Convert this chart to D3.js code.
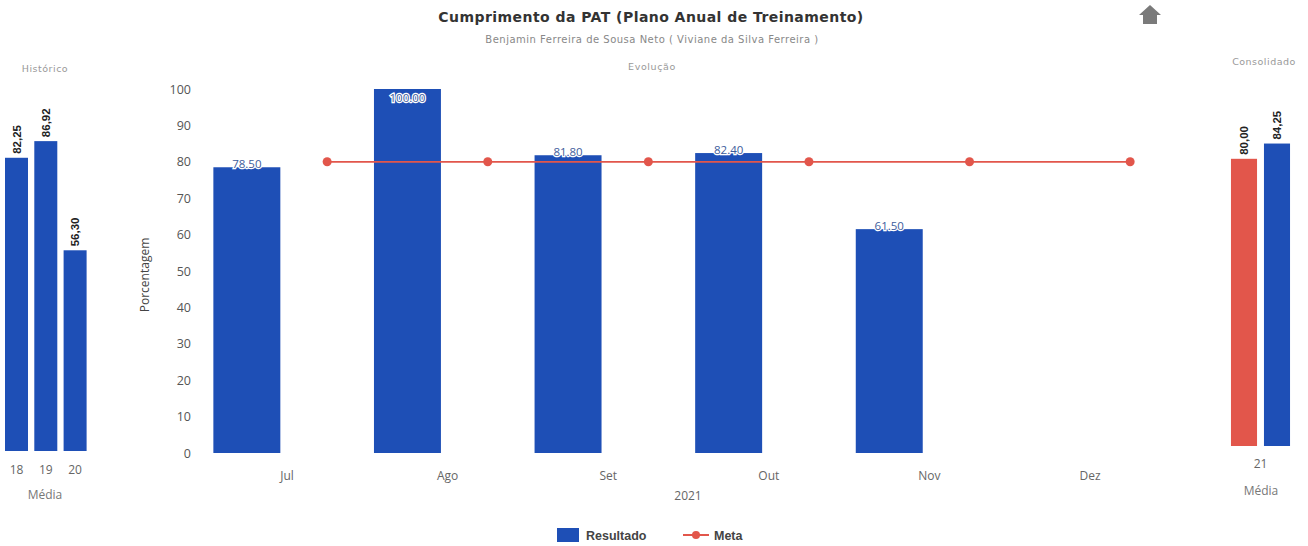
<!DOCTYPE html>
<html>
<head>
<meta charset="utf-8">
<script src="https://cdn.jsdelivr.net/npm/d3@7"></script>
<style>
  html, body { margin: 0; padding: 0; background: #ffffff; }
  svg { display: block; font-family: "Liberation Sans", Arial, sans-serif; }
</style>
</head>
<body>
<svg id="chart" width="1308" height="546"></svg>
<script>
// ---------- DATA ----------
const months = ["Jul", "Ago", "Set", "Out", "Nov", "Dez"];
const resultado = [78.5, 100.0, 81.8, 82.4, 61.5, null];
const meta = [80, 80, 80, 80, 80, 80];
const yTicks = [0, 10, 20, 30, 40, 50, 60, 70, 80, 90, 100];

const histYears = ["18", "19", "20"];
const histValues = [82.25, 86.92, 56.30];

const consCategory = "21";
const consSeries = ["Meta", "Resultado"];
const consValues = [80.00, 84.25];

// ---------- STYLE ----------
const BLUE = "#1e4fb6";
const RED = "#e2564b";
const OPEN = "'Open Sans', 'Liberation Sans', sans-serif";
const DEJA = "'DejaVu Sans', sans-serif";
const svg = d3.select("#chart");
const fmtDot = d3.format(".2f");
const fmtComma = v => d3.format(".2f")(v).replace(".", ",");

// ---------- TITLES ----------
svg.append("text").attr("x", 651).attr("y", 22).attr("text-anchor", "middle")
  .attr("font-size", 14).attr("font-weight", "bold").attr("fill", "#333")
  .attr("letter-spacing", 0.45)
  .style("font-family", DEJA)
  .text("Cumprimento da PAT (Plano Anual de Treinamento)");
svg.append("text").attr("x", 652).attr("y", 43).attr("text-anchor", "middle")
  .attr("font-size", 10).attr("fill", "#888").attr("letter-spacing", 0.5).style("font-family", DEJA)
  .text("Benjamin Ferreira de Sousa Neto ( Viviane da Silva Ferreira )");

// home / up arrow icon
svg.append("path")
  .attr("d", "M1150,5 L1161,15 L1157,15 L1157,24 L1143,24 L1143,15 L1139,15 Z")
  .attr("fill", "#7a7a7a");

// ---------- LEFT PANEL: Histórico ----------
svg.append("text").attr("x", 45).attr("y", 72).attr("text-anchor", "middle")
  .attr("font-size", 9.5).attr("letter-spacing", 0.5).attr("fill", "#999").style("font-family", DEJA).text("Histórico");

const xL = d3.scaleBand().domain(histYears).range([1.85, 89.75]).paddingInner(0.215).paddingOuter(0.1075);
const yL = d3.scaleLinear().domain([0, 100]).range([451, 94.5]);

svg.append("g").selectAll("rect").data(histYears).join("rect")
  .attr("x", d => xL(d)).attr("width", xL.bandwidth())
  .attr("y", (d, i) => yL(histValues[i]))
  .attr("height", (d, i) => yL(0) - yL(histValues[i]))
  .attr("fill", BLUE);

svg.append("g").selectAll("text").data(histYears).join("text")
  .attr("transform", (d, i) => `translate(${xL(d) + xL.bandwidth() / 2 + 4},${yL(histValues[i]) - 4}) rotate(-90)`)
  .attr("font-size", 11.5).attr("font-weight", "bold").attr("fill", "#222")
  .text((d, i) => fmtComma(histValues[i]));

const axL = svg.append("g").attr("transform", "translate(0,463)")
  .call(d3.axisBottom(xL).tickSize(0).tickPadding(0));
axL.select(".domain").remove();
axL.selectAll("text").attr("font-size", 12).attr("fill", "#666").attr("dy", "0.9em")
  .style("font-family", OPEN);
svg.append("text").attr("x", 45).attr("y", 499).attr("text-anchor", "middle")
  .attr("font-size", 12).attr("fill", "#777")
  .style("font-family", OPEN).text("Média");

// ---------- RIGHT PANEL: Consolidado ----------
svg.append("text").attr("x", 1264).attr("y", 65).attr("text-anchor", "middle")
  .attr("font-size", 9.5).attr("letter-spacing", 0.5).attr("fill", "#999").style("font-family", DEJA).text("Consolidado");

const xR = d3.scaleBand().domain(consSeries).range([1227.5, 1293.5]).paddingInner(0.21).paddingOuter(0.105);
const yR = d3.scaleLinear().domain([0, 100]).range([446, 87]);

svg.append("g").selectAll("rect").data(consSeries).join("rect")
  .attr("x", d => xR(d)).attr("width", xR.bandwidth())
  .attr("y", (d, i) => yR(consValues[i]))
  .attr("height", (d, i) => yR(0) - yR(consValues[i]))
  .attr("fill", (d) => d === "Meta" ? RED : BLUE);

svg.append("g").selectAll("text").data(consSeries).join("text")
  .attr("transform", (d, i) => `translate(${xR(d) + xR.bandwidth() / 2 + 4},${yR(consValues[i]) - 4}) rotate(-90)`)
  .attr("font-size", 11.5).attr("font-weight", "bold").attr("fill", "#222")
  .text((d, i) => fmtComma(consValues[i]));

const xRc = d3.scaleBand().domain([consCategory]).range([1227.5, 1293.5]);
const axR = svg.append("g").attr("transform", "translate(0,457)")
  .call(d3.axisBottom(xRc).tickSize(0).tickPadding(0));
axR.select(".domain").remove();
axR.selectAll("text").attr("font-size", 12).attr("fill", "#666").attr("dy", "0.9em")
  .style("font-family", OPEN);
svg.append("text").attr("x", 1261).attr("y", 495).attr("text-anchor", "middle")
  .attr("font-size", 12).attr("fill", "#777")
  .style("font-family", OPEN).text("Média");

// ---------- MAIN PANEL: Evolução ----------
svg.append("text").attr("x", 652).attr("y", 70).attr("text-anchor", "middle")
  .attr("font-size", 9.5).attr("letter-spacing", 0.6).attr("fill", "#999").style("font-family", DEJA).text("Evolução");

const x0 = d3.scaleBand().domain(months).range([206.7, 1170.3]);
const x1 = d3.scaleBand().domain(["Resultado", "Meta"]).range([0, x0.bandwidth()])
  .paddingInner(0.166).paddingOuter(0.083);
const y = d3.scaleLinear().domain([0, 100]).range([453, 89]);

// y axis
const ay = svg.append("g").attr("transform", "translate(191,0)")
  .call(d3.axisLeft(y).tickValues(yTicks).tickSize(0).tickPadding(0));
ay.select(".domain").remove();
ay.selectAll("text").attr("font-size", 12.5).attr("fill", "#555")
  .style("font-family", OPEN);

svg.append("text").attr("transform", "translate(149,275) rotate(-90)")
  .attr("text-anchor", "middle").attr("font-size", 12).attr("fill", "#444")
  .style("font-family", OPEN).text("Porcentagem");

// bars
const barData = months.map((m, i) => ({ m, v: resultado[i] })).filter(d => d.v != null);
svg.append("g").selectAll("rect").data(barData).join("rect")
  .attr("x", d => x0(d.m) + x1("Resultado"))
  .attr("width", x1.bandwidth())
  .attr("y", d => y(d.v))
  .attr("height", d => y(0) - y(d.v))
  .attr("fill", BLUE);

// bar labels (kept inside the plot area when the bar reaches the top)
svg.append("g").selectAll("text").data(barData).join("text")
  .attr("x", d => x0(d.m) + x1("Resultado") + x1.bandwidth() / 2)
  .attr("y", d => Math.max(y(d.v) + 1, y(100) + 13))
  .attr("text-anchor", "middle").attr("font-size", 11.5)
  .attr("fill", "#3d5c9c").attr("stroke", "#ffffff").attr("stroke-width", 2.5)
  .attr("paint-order", "stroke")
  .style("font-family", OPEN)
  .text(d => fmtDot(d.v));

// meta line
const metaData = months.map((m, i) => ({ m, v: meta[i] }));
const mx = d => x0(d.m) + x1("Meta") + x1.bandwidth() / 2;
svg.append("path").datum(metaData)
  .attr("d", d3.line().x(mx).y(d => y(d.v)))
  .attr("fill", "none").attr("stroke", RED).attr("stroke-width", 1.8);
svg.append("g").selectAll("circle").data(metaData).join("circle")
  .attr("cx", mx).attr("cy", d => y(d.v)).attr("r", 4.5).attr("fill", RED);

// x axis
const ax = svg.append("g").attr("transform", "translate(0,469)")
  .call(d3.axisBottom(x0).tickSize(0).tickPadding(0));
ax.select(".domain").remove();
ax.selectAll("text").attr("font-size", 12).attr("fill", "#666").attr("dy", "0.9em")
  .style("font-family", OPEN);

svg.append("text").attr("x", 688).attr("y", 500).attr("text-anchor", "middle")
  .attr("font-size", 12).attr("fill", "#666")
  .style("font-family", OPEN).text("2021");

// ---------- LEGEND ----------
const lg = svg.append("g");
lg.append("rect").attr("x", 557).attr("y", 528).attr("width", 22).attr("height", 14).attr("fill", BLUE);
lg.append("text").attr("x", 586).attr("y", 540).attr("font-size", 12.5).attr("font-weight", "bold")
  .attr("fill", "#444").text("Resultado");
lg.append("line").attr("x1", 683).attr("x2", 709).attr("y1", 535).attr("y2", 535)
  .attr("stroke", RED).attr("stroke-width", 2);
lg.append("circle").attr("cx", 696).attr("cy", 535).attr("r", 4).attr("fill", RED);
lg.append("text").attr("x", 714).attr("y", 540).attr("font-size", 12.5).attr("font-weight", "bold")
  .attr("fill", "#444").text("Meta");
</script>
</body>
</html>
